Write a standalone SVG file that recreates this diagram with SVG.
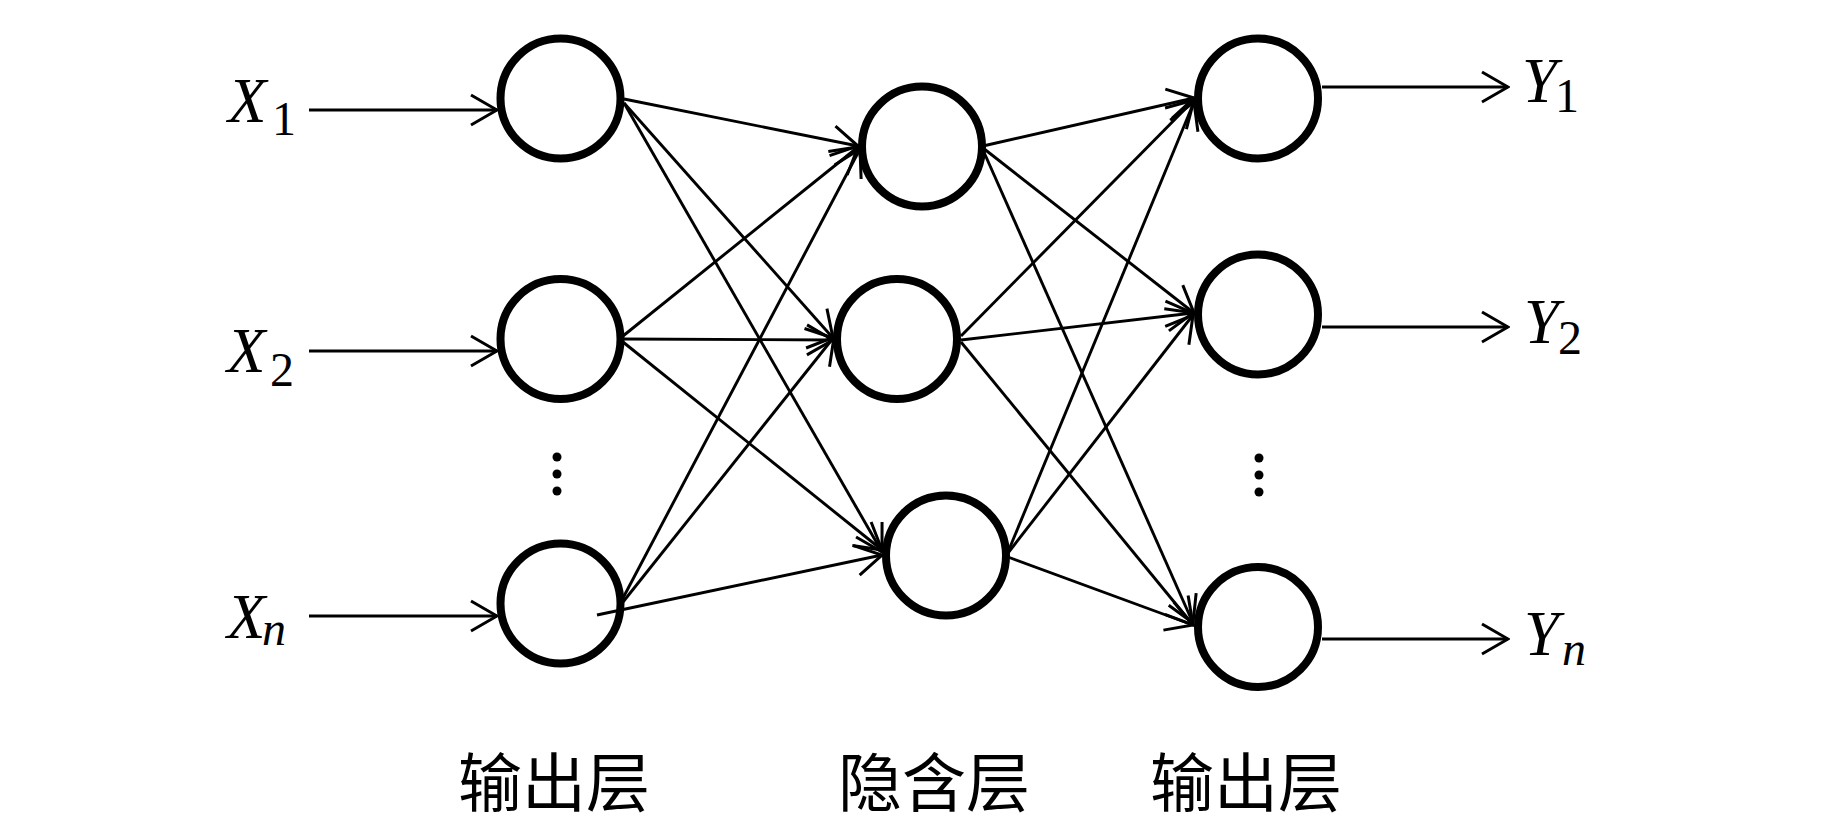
<svg xmlns="http://www.w3.org/2000/svg" width="1843" height="827" viewBox="0 0 1843 827">
<style>
.node{fill:none;stroke:#000;stroke-width:8}
.lbl{font-family:'Liberation Serif','Times New Roman',serif;fill:#000}
.it{font-style:italic}
.cap{font-family:'Noto Sans CJK SC','Noto Sans CJK TC',sans-serif;font-size:64px;fill:#000}
.edge{stroke:#000;stroke-width:2.9;fill:none;marker-end:url(#arr)}
.dot{fill:#000}
</style>
<defs>
<marker id="arr" viewBox="0 0 30 34" refX="28" refY="17" markerWidth="30" markerHeight="34" markerUnits="userSpaceOnUse" orient="auto">
<path d="M2,2 L28,17 L2,32" fill="none" stroke="#000" stroke-width="3" stroke-linejoin="miter"/>
</marker>
</defs>
<rect width="1843" height="827" fill="#fff"/>
<g id="connectors">
<line class="edge" x1="309" y1="110" x2="497" y2="110"/>
<line class="edge" x1="309" y1="351" x2="497" y2="351"/>
<line class="edge" x1="309" y1="616" x2="497" y2="616"/>
<line class="edge" x1="624" y1="99" x2="858" y2="146"/>
<line class="edge" x1="624" y1="103" x2="833" y2="338"/>
<line class="edge" x1="624" y1="103" x2="882" y2="552"/>
<line class="edge" x1="623" y1="336" x2="858" y2="147"/>
<line class="edge" x1="623" y1="339" x2="833" y2="340"/>
<line class="edge" x1="623" y1="342" x2="882" y2="550"/>
<line class="edge" x1="623" y1="598" x2="860" y2="149"/>
<line class="edge" x1="623" y1="602" x2="834" y2="337"/>
<line class="edge" x1="597" y1="615" x2="882" y2="555"/>
<line class="edge" x1="983" y1="146" x2="1194" y2="98"/>
<line class="edge" x1="983" y1="148" x2="1194" y2="313"/>
<line class="edge" x1="983" y1="150" x2="1193" y2="623"/>
<line class="edge" x1="961" y1="336" x2="1194" y2="100"/>
<line class="edge" x1="961" y1="340" x2="1193" y2="313"/>
<line class="edge" x1="961" y1="342" x2="1193" y2="625"/>
<line class="edge" x1="1008" y1="552" x2="1194" y2="102"/>
<line class="edge" x1="1008" y1="553" x2="1193" y2="315"/>
<line class="edge" x1="1008" y1="557" x2="1193" y2="625"/>
<line class="edge" x1="1322" y1="87" x2="1508" y2="87"/>
<line class="edge" x1="1322" y1="327" x2="1508" y2="327"/>
<line class="edge" x1="1322" y1="639" x2="1508" y2="639"/>
</g>
<g id="in1"><circle class="node" cx="560.5" cy="98.5" r="60"/></g>
<g id="in2"><circle class="node" cx="560.5" cy="339" r="60"/></g>
<g id="inn"><circle class="node" cx="560.5" cy="603.5" r="60"/></g>
<g id="h1"><circle class="node" cx="922" cy="146.5" r="60"/></g>
<g id="h2"><circle class="node" cx="897" cy="339" r="60"/></g>
<g id="h3"><circle class="node" cx="946" cy="555.5" r="60"/></g>
<g id="out1"><circle class="node" cx="1258" cy="98.5" r="60"/></g>
<g id="out2"><circle class="node" cx="1258" cy="314.5" r="60"/></g>
<g id="outn"><circle class="node" cx="1258" cy="627" r="60"/></g>
<g id="dots-left"><circle class="dot" cx="557" cy="457" r="4.5"/><circle class="dot" cx="557" cy="474" r="4.5"/><circle class="dot" cx="557" cy="491" r="4.5"/></g>
<g id="dots-right"><circle class="dot" cx="1259" cy="458" r="4.5"/><circle class="dot" cx="1259" cy="475" r="4.5"/><circle class="dot" cx="1259" cy="492" r="4.5"/></g>
<g id="labels-in">
<text class="lbl" font-size="63" x="228" y="122"><tspan class="it">X</tspan><tspan x="272" y="135" font-size="48">1</tspan></text>
<text class="lbl" font-size="63" x="227" y="372"><tspan class="it">X</tspan><tspan x="270" y="386" font-size="48">2</tspan></text>
<text class="lbl" font-size="63" x="227" y="638"><tspan class="it">X</tspan><tspan class="it" x="262" y="645" font-size="48">n</tspan></text>
</g>
<g id="labels-out">
<text class="lbl" font-size="63" x="1522" y="102"><tspan class="it">Y</tspan><tspan x="1555" y="112" font-size="48">1</tspan></text>
<text class="lbl" font-size="63" x="1524" y="343"><tspan class="it">Y</tspan><tspan x="1558" y="354" font-size="48">2</tspan></text>
<text class="lbl" font-size="63" x="1524" y="655"><tspan class="it">Y</tspan><tspan class="it" x="1562" y="665" font-size="48">n</tspan></text>
</g>
<g id="captions">
<text class="cap" x="458" y="806">输出层</text>
<text class="cap" x="838" y="806">隐含层</text>
<text class="cap" x="1150" y="806">输出层</text>
</g>
</svg>
